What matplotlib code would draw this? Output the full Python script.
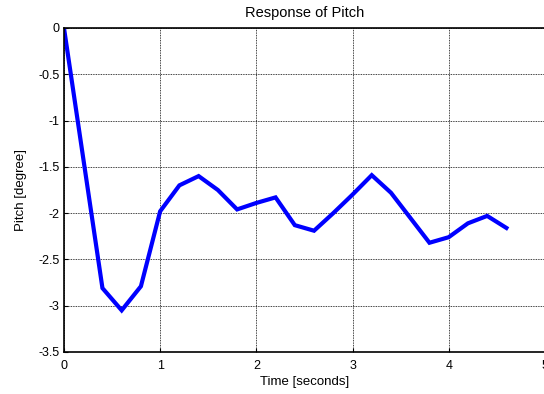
import matplotlib
matplotlib.use("Agg")
import matplotlib.pyplot as plt

plt.rcParams['font.family'] = ['Liberation Sans', 'DejaVu Sans']

time_s = [0.0, 0.4, 0.6, 0.8, 1.0, 1.2, 1.4, 1.6, 1.8, 2.0, 2.2, 2.4, 2.6,
          2.8, 3.0, 3.2, 3.4, 3.6, 3.8, 4.0, 4.2, 4.4, 4.6]
pitch_deg = [0.0, -2.81, -3.05, -2.79, -1.98, -1.70, -1.60, -1.75, -1.96,
             -1.89, -1.83, -2.13, -2.19, -2.00, -1.80, -1.59, -1.78, -2.05,
             -2.32, -2.26, -2.11, -2.03, -2.16]

x_ticks = [0, 1, 2, 3, 4, 5]
y_ticks = [0, -0.5, -1, -1.5, -2, -2.5, -3, -3.5]
y_tick_labels = ['0', '-0.5', '-1', '-1.5', '-2', '-2.5', '-3', '-3.5']

fig = plt.figure(figsize=(5.44, 3.94), dpi=100)
ax = fig.add_axes([0.1176, 0.1066, 0.884, 0.8224])

ax.plot(time_s, pitch_deg, color='#0000ff', linewidth=3.0,
        solid_joinstyle='miter')

ax.set_xlim(0, 5)
ax.set_ylim(-3.5, 0)
ax.set_xticks(x_ticks)
ax.set_xticklabels([str(t) for t in x_ticks])
ax.set_yticks(y_ticks)
ax.set_yticklabels(y_tick_labels)

ax.grid(True, color='black', linestyle=(0, (1, 1)), linewidth=0.6)
ax.tick_params(direction='in', length=3, width=0.8, labelsize=9,
               colors='black')
ax.tick_params(axis='x', pad=6)
ax.tick_params(axis='y', pad=3)
for side in ('left', 'bottom', 'top', 'right'):
    ax.spines[side].set_linewidth(1.2)

ax.set_title('Response of Pitch', fontsize=10.5, pad=8)
ax.set_xlabel('Time [seconds]', fontsize=9.5, labelpad=3)
ax.set_ylabel('Pitch [degree]', fontsize=9.5, labelpad=8)

fig.savefig('out.png', dpi=100)
